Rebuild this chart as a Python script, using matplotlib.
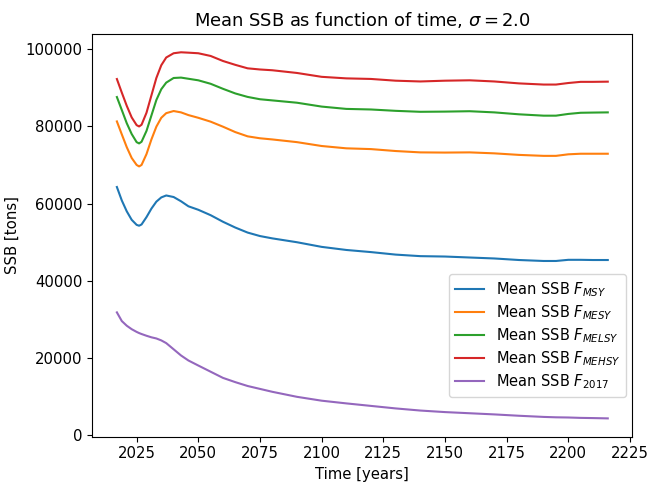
import numpy as np
import matplotlib
matplotlib.use('Agg')
import matplotlib.pyplot as plt

plt.rcParams['font.size'] = 10.7

# Years (simulation time)
years = [2017, 2019, 2021, 2023, 2025, 2026, 2027, 2029, 2031, 2033, 2035, 2037,
         2040, 2043, 2046, 2050, 2055, 2060, 2065, 2070, 2075, 2080, 2090, 2100,
         2110, 2120, 2130, 2140, 2150, 2160, 2170, 2180, 2190, 2195, 2200, 2205,
         2210, 2216]

# Mean SSB per strategy (tons)
ssb_msy = [64290, 60800, 58000, 55800, 54500, 54270, 54600, 56500, 58700, 60500,
           61600, 62100, 61700, 60600, 59300, 58400, 57000, 55300, 53800, 52500,
           51600, 51000, 50000, 48800, 48000, 47450, 46800, 46400, 46300, 46050,
           45800, 45400, 45150, 45150, 45450, 45450, 45400, 45400]
ssb_mesy = [81260, 77900, 74600, 71800, 70000, 69620, 70000, 72800, 76600, 79900,
            82200, 83400, 83950, 83600, 82900, 82200, 81200, 79900, 78500, 77400,
            76900, 76600, 75900, 74900, 74300, 74100, 73600, 73250, 73200, 73250,
            73000, 72600, 72350, 72350, 72750, 72900, 72900, 72900]
ssb_melsy = [87570, 84200, 80800, 78000, 75900, 75570, 76000, 78800, 82800, 86800,
             89600, 91300, 92500, 92600, 92300, 91900, 91000, 89700, 88500, 87600,
             87000, 86700, 86100, 85100, 84500, 84350, 84000, 83750, 83800, 83900,
             83600, 83100, 82750, 82750, 83200, 83500, 83550, 83600]
ssb_mehsy = [92230, 88700, 85300, 82300, 80300, 79960, 80400, 83500, 88000, 92500,
             95800, 97800, 98900, 99150, 99050, 98900, 98200, 96900, 95900, 95000,
             94700, 94500, 93800, 92800, 92400, 92250, 91800, 91600, 91800, 91900,
             91600, 91100, 90800, 90800, 91200, 91500, 91500, 91550]
ssb_2017 = [31850, 29600, 28400, 27500, 26800, 26500, 26250, 25800, 25400, 25100,
            24600, 23900, 22300, 20700, 19400, 18100, 16500, 14900, 13800, 12800,
            12050, 11300, 10000, 9000, 8300, 7650, 7000, 6450, 6050, 5750,
            5450, 5100, 4800, 4700, 4650, 4550, 4500, 4420]

labels = [r'Mean SSB $F_{MSY}$', r'Mean SSB $F_{MESY}$', r'Mean SSB $F_{MELSY}$',
          r'Mean SSB $F_{MEHSY}$', r'Mean SSB $F_{2017}$']

fig, ax = plt.subplots(figsize=(6.48, 4.82), dpi=100)
fig.subplots_adjust(left=0.1425, right=0.9758, bottom=0.094, top=0.9295)

for series, lab in zip([ssb_msy, ssb_mesy, ssb_melsy, ssb_mehsy, ssb_2017], labels):
    ax.plot(years, series, label=lab)

ax.set_xticks(np.arange(2025, 2226, 25))
ax.set_xlabel('Time [years]')
ax.set_ylabel('SSB [tons]')
ax.set_title(r'Mean SSB as function of time, $\sigma = 2.0$')
ax.legend(loc='lower right', bbox_to_anchor=(0.9883, 0.0986), borderaxespad=0,
          fontsize=10.5, labelspacing=0.3)

fig.savefig('out.png', dpi=100)
